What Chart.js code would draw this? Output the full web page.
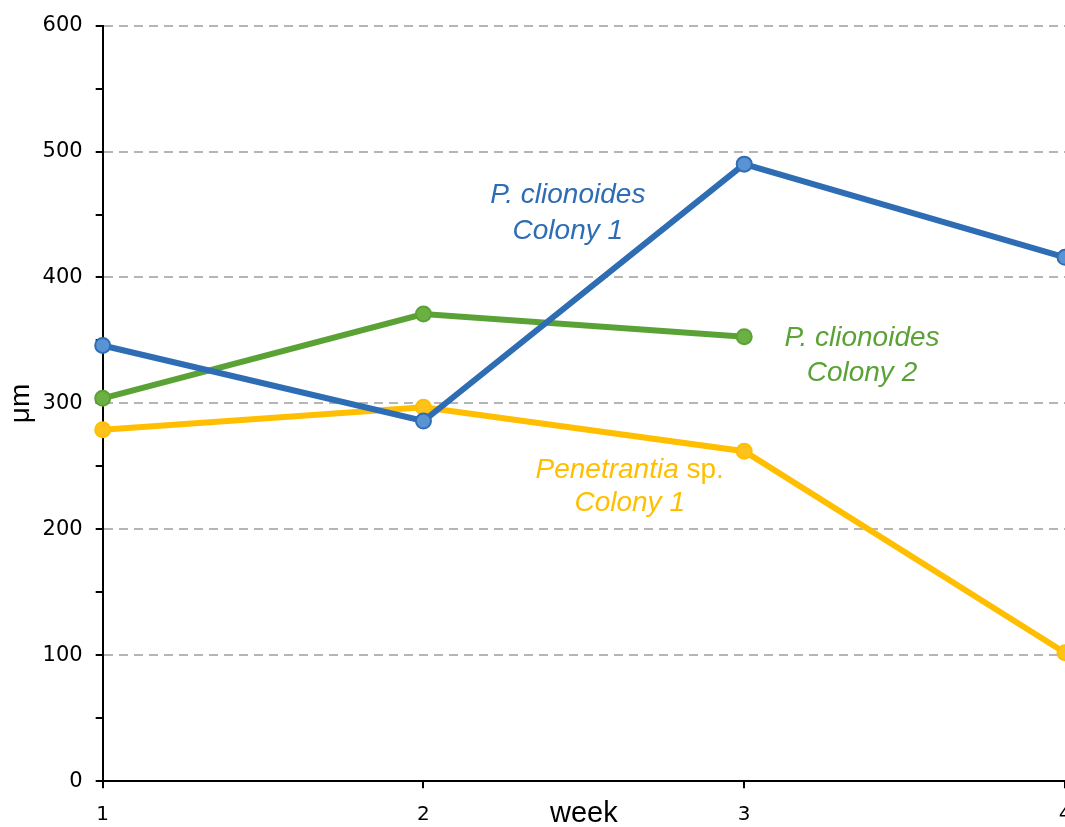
<!DOCTYPE html>
<html>
<head>
<meta charset="utf-8">
<script src="https://cdn.jsdelivr.net/npm/chart.js@4.4.1/dist/chart.umd.min.js"></script>
<style>
  html, body { margin: 0; padding: 0; background: #fff; }
  #wrap { width: 1065px; height: 827px; }
</style>
</head>
<body>
<div id="wrap"><canvas id="chart"></canvas></div>
<script>
const weeks = ['1', '2', '3', '4'];
const clionoides1 = [346, 286, 490, 416];
const clionoides2 = [304, 371, 353, null];
const penetrantia1 = [279, 297, 262, 102];
const yTicks = [0, 100, 200, 300, 400, 500, 600];

// series labels drawn inside the plot (x = category index, y = value)
const seriesLabels = [
  { lines: [[['P. clionoides', true]], [['Colony 1', true]]], x: 1.45, y: [465, 437], color: '#2e6db4' },
  { lines: [[['P. clionoides', true]], [['Colony 2', true]]], x: 2.367, y: [352, 324], color: '#5ba236' },
  { lines: [[['Penetrantia', true], [' sp.', false]], [['Colony 1', true]]], x: 1.643, y: [247, 221], color: '#ffbf00' }
];

const labelPlugin = {
  id: 'seriesLabels',
  afterDatasetsDraw(chart) {
    const { ctx, scales } = chart;
    ctx.save();
    ctx.textBaseline = 'middle';
    ctx.textAlign = 'left';
    seriesLabels.forEach(l => {
      const cx = scales.x.getPixelForValue(l.x);
      ctx.fillStyle = l.color;
      l.lines.forEach((parts, i) => {
        const cy = scales.y.getPixelForValue(l.y[i]);
        const fonts = parts.map(p => (p[1] ? 'italic ' : '') + '28px "Liberation Sans", Arial, sans-serif');
        let w = 0;
        parts.forEach((p, j) => { ctx.font = fonts[j]; w += ctx.measureText(p[0]).width; });
        let x = cx - w / 2;
        parts.forEach((p, j) => {
          ctx.font = fonts[j];
          ctx.fillText(p[0], x, cy);
          x += ctx.measureText(p[0]).width;
        });
      });
    });
    ctx.restore();
  }
};

const ctx = document.getElementById('chart');
new Chart(ctx, {
  type: 'line',
  data: {
    labels: weeks,
    datasets: [
      {
        label: 'P. clionoides Colony 1',
        data: clionoides1,
        borderColor: '#2e6db4',
        backgroundColor: '#5a93d3',
        pointBorderColor: '#2e6db4',
        borderWidth: 6,
        pointRadius: 7.5,
        pointBorderWidth: 2,
        clip: false
      },
      {
        label: 'P. clionoides Colony 2',
        data: clionoides2,
        borderColor: '#5ba236',
        backgroundColor: '#6cb043',
        pointBorderColor: '#5ba236',
        borderWidth: 6,
        pointRadius: 7.5,
        pointBorderWidth: 2,
        clip: false
      },
      {
        label: 'Penetrantia sp. Colony 1',
        data: penetrantia1,
        borderColor: '#ffbf00',
        backgroundColor: '#ffc21a',
        pointBorderColor: '#ffbf00',
        borderWidth: 6,
        pointRadius: 7.5,
        pointBorderWidth: 2,
        clip: false
      }
    ]
  },
  options: {
    responsive: true,
    maintainAspectRatio: false,
    animation: false,
    layout: { autoPadding: false, padding: { top: 3, left: 4, right: 0, bottom: 0 } },
    plugins: { legend: { display: false }, tooltip: { enabled: false } },
    scales: {
      x: {
        offset: false,
        afterFit: s => { s.paddingLeft = 0; s.paddingRight = 0; },
        border: { display: true, color: '#000', width: 2 },
        grid: { drawOnChartArea: false, tickLength: 7, tickColor: '#000', lineWidth: 2 },
        ticks: { color: '#000', padding: 15, maxRotation: 0, font: { family: '"DejaVu Sans", sans-serif', size: 20 } },
        title: { display: true, text: 'week', color: '#000', padding: { top: -46, bottom: -4 }, font: { family: '"Liberation Sans", Arial, sans-serif', size: 29 } }
      },
      y: {
        min: 0,
        max: 600,
        afterBuildTicks: s => { s.ticks = []; for (let v = 0; v <= 600; v += 50) s.ticks.push({ value: v }); },
        border: { display: true, color: '#000', width: 2, dash: [9, 6] },
        grid: {
          color: c => (yTicks.includes(c.tick.value) && c.tick.value > 0 ? '#b5b5b5' : 'rgba(0,0,0,0)'),
          lineWidth: 2,
          tickColor: '#000',
          tickBorderDash: [],
          tickLength: 7
        },
        ticks: {
          color: '#000',
          padding: 13,
          font: { family: '"DejaVu Sans", sans-serif', size: 21 },
          callback: v => (yTicks.includes(v) ? String(v) : '')
        },
        title: { display: true, text: 'μm', color: '#000', padding: { top: 0, bottom: -8 }, font: { family: '"Liberation Sans", Arial, sans-serif', size: 28 } }
      }
    }
  },
  plugins: [labelPlugin]
});
</script>
</body>
</html>
